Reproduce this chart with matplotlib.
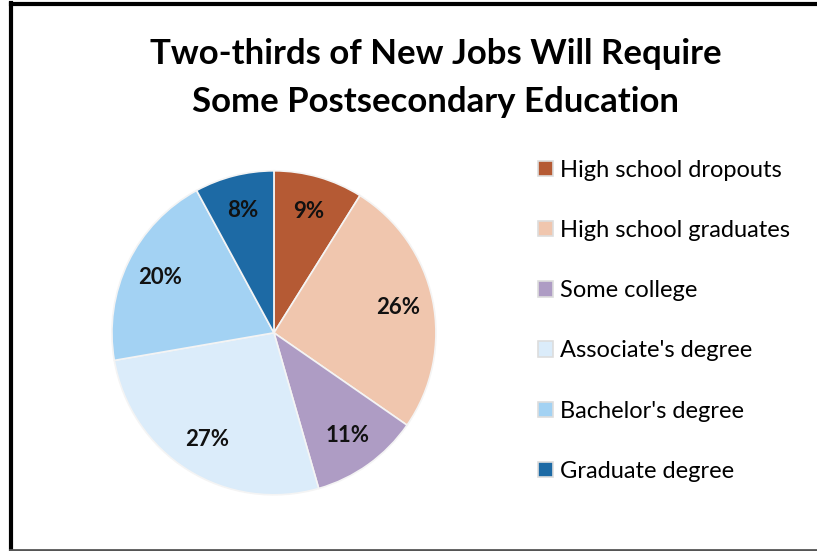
import matplotlib
matplotlib.use('Agg')
import matplotlib.pyplot as plt
from matplotlib.lines import Line2D

# data
labels = ['High school dropouts', 'High school graduates', 'Some college',
          "Associate's degree", "Bachelor's degree", 'Graduate degree']
shares = [9, 26, 11, 27, 20, 8]
pct_text = ['9%', '26%', '11%', '27%', '20%', '8%']
colors = ['#b55a34', '#f0c6ae', '#ae9cc4', '#dbecfa', '#a3d2f3', '#1d6aa5']

plt.rcParams['font.family'] = ['Lato', 'DejaVu Sans']

fig = plt.figure(figsize=(8.17, 5.51), dpi=100)

# frame like the screenshot
fig.add_artist(Line2D([10.5/817, 10.5/817], [0, 1 - 3/551], color='black', lw=3))
fig.add_artist(Line2D([10.5/817, 1], [1 - 3.5/551, 1 - 3.5/551], color='black', lw=3))
fig.add_artist(Line2D([10/817, 1], [1.5/551, 1.5/551], color='#555555', lw=2))

fig.text(436/817, 1 - 54/551, 'Two-thirds of New Jobs Will Require',
         ha='center', va='center', fontsize=25, fontweight='bold')
fig.text(436/817, 1 - 102/551, 'Some Postsecondary Education',
         ha='center', va='center', fontsize=25, fontweight='bold')

ax = fig.add_axes([0.137, 0.102, 0.3966, 0.588])
wedges, texts = ax.pie(shares, colors=colors, startangle=90, counterclock=False,
                       labels=pct_text, labeldistance=0.78,
                       wedgeprops=dict(edgecolor='#f4f4f4', linewidth=1.2),
                       textprops=dict(fontsize=16, fontweight='bold', color='#111111',
                                      ha='center', va='center'))
for t in texts:
    t.set_ha('center')
ax.set_xlim(-1.0, 1.0)
ax.set_ylim(-1.0, 1.0)
ax.set_aspect('equal')

leg = fig.legend(wedges, labels, loc='upper left', bbox_to_anchor=(526/817, 1 - 148/551),
                 frameon=False, fontsize=17, handlelength=0.63, handleheight=0.63,
                 handletextpad=0.3, labelspacing=1.66, borderpad=0)
for h in leg.legend_handles:
    h.set_edgecolor('#dddddd')

fig.savefig('out.png', dpi=100)
